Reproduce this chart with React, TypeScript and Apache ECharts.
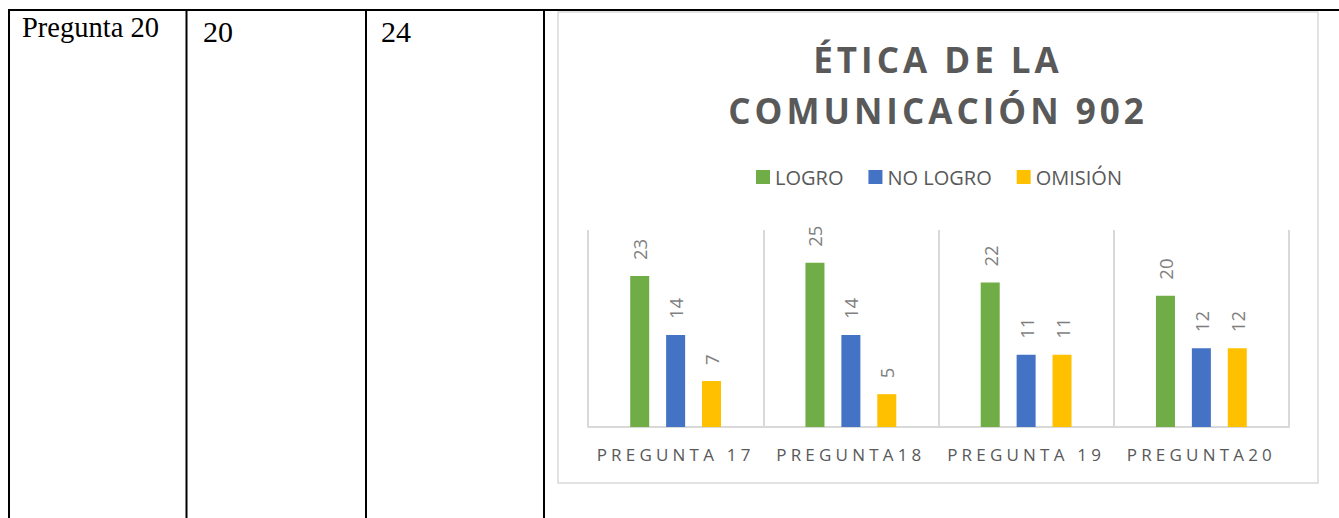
import React, { useEffect, useRef } from "react";
import * as echarts from "echarts";

const categories = ["PREGUNTA 17", "PREGUNTA18", "PREGUNTA 19", "PREGUNTA20"];
const seriesNames = ["LOGRO", "NO LOGRO", "OMISIÓN"];
const logro = [23, 25, 22, 20];
const noLogro = [14, 14, 11, 12];
const omision = [7, 5, 11, 12];
const seriesColors = ["#70ad47", "#4472c4", "#ffc000"];
const titleLines = ["ÉTICA DE LA", "COMUNICACIÓN 902"];
const tableCells = ["Pregunta 20", "20", "24"];

const spacingMap: Record<string, number> = {
  [titleLines[0]]: 4,
  [titleLines[1]]: 4,
  [categories[0]]: 4.2,
  [categories[1]]: 4.2,
  [categories[2]]: 4.2,
  [categories[3]]: 4.2,
};

export default function App() {
  const ref = useRef<HTMLDivElement>(null);

  useEffect(() => {
    if (!ref.current) return;
    const el = ref.current;
    const chart = echarts.init(el, undefined, { renderer: "svg" });

    const black = "#000000";
    const graphic: any[] = [
      { type: "line", shape: { x1: 8, y1: 10, x2: 1339, y2: 10 }, style: { stroke: black, lineWidth: 2 } },
      { type: "line", shape: { x1: 9, y1: 9, x2: 9, y2: 518 }, style: { stroke: black, lineWidth: 2 } },
      { type: "line", shape: { x1: 186.5, y1: 9, x2: 186.5, y2: 518 }, style: { stroke: black, lineWidth: 2 } },
      { type: "line", shape: { x1: 366, y1: 9, x2: 366, y2: 518 }, style: { stroke: black, lineWidth: 2 } },
      { type: "line", shape: { x1: 544, y1: 9, x2: 544, y2: 518 }, style: { stroke: black, lineWidth: 2 } },
      {
        type: "rect",
        shape: { x: 558, y: 12, width: 760, height: 471 },
        style: { fill: "none", stroke: "#d9d9d9", lineWidth: 1.5 },
      },
      {
        type: "text", x: 22, y: 27,
        style: { text: tableCells[0], fill: black, font: "28.5px 'Liberation Serif'", verticalAlign: "middle", align: "left" },
      },
      {
        type: "text", x: 203, y: 31,
        style: { text: tableCells[1], fill: black, font: "30px 'Liberation Serif'", verticalAlign: "middle", align: "left" },
      },
      {
        type: "text", x: 381, y: 31,
        style: { text: tableCells[2], fill: black, font: "30px 'Liberation Serif'", verticalAlign: "middle", align: "left" },
      },
    ];

    const mkSeries = (name: string, data: number[], color: string) => ({
      name,
      type: "bar",
      data,
      barWidth: 19,
      barGap: "89%",
      itemStyle: { color },
      label: {
        show: true,
        position: "top",
        rotate: 90,
        align: "left",
        verticalAlign: "middle",
        distance: 16,
        color: "#7f7f7f",
        fontFamily: "Open Sans",
        fontSize: 18.5,
      },
    });

    chart.setOption({
      animation: false,
      title: {
        text: titleLines.join("\n"),
        left: 938,
        top: 34,
        padding: 0,
        textAlign: "center",
        textStyle: {
          fontFamily: "Open Sans",
          fontWeight: "bold",
          fontSize: 35,
          lineHeight: 51,
          color: "#595959",
        },
      },
      legend: {
        data: seriesNames,
        left: 756,
        top: 167,
        padding: 0,
        itemWidth: 14,
        itemHeight: 14,
        itemGap: 25,
        icon: "rect",
        textStyle: { fontFamily: "Open Sans", fontSize: 20, color: "#595959" },
      },
      grid: { left: 588, right: 50, top: 230, bottom: 91, containLabel: false },
      xAxis: {
        type: "category",
        data: categories,
        axisLine: { lineStyle: { color: "#d9d9d9", width: 2 } },
        axisTick: { show: false },
        splitLine: { show: true, interval: 0, lineStyle: { color: "#d9d9d9", width: 2 } },
        axisLabel: {
          interval: 0,
          margin: 19,
          color: "#595959",
          fontFamily: "Open Sans",
          fontSize: 17,
        },
      },
      yAxis: {
        type: "value",
        min: 0,
        max: 30,
        show: false,
        splitLine: { show: false },
      },
      graphic,
      series: [
        mkSeries(seriesNames[0], logro, seriesColors[0]),
        mkSeries(seriesNames[1], noLogro, seriesColors[1]),
        mkSeries(seriesNames[2], omision, seriesColors[2]),
      ],
    });

    const patch = () => {
      el.querySelectorAll("text").forEach((t) => {
        const s = spacingMap[(t.textContent || "").trim()];
        if (s) t.setAttribute("letter-spacing", String(s));
      });
    };
    patch();
    chart.on("finished", patch);

    return () => {
      chart.dispose();
    };
  }, []);

  return (
    <div
      ref={ref}
      style={{ position: "absolute", left: 0, top: 0, width: 1339, height: 518, background: "#ffffff" }}
    />
  );
}
